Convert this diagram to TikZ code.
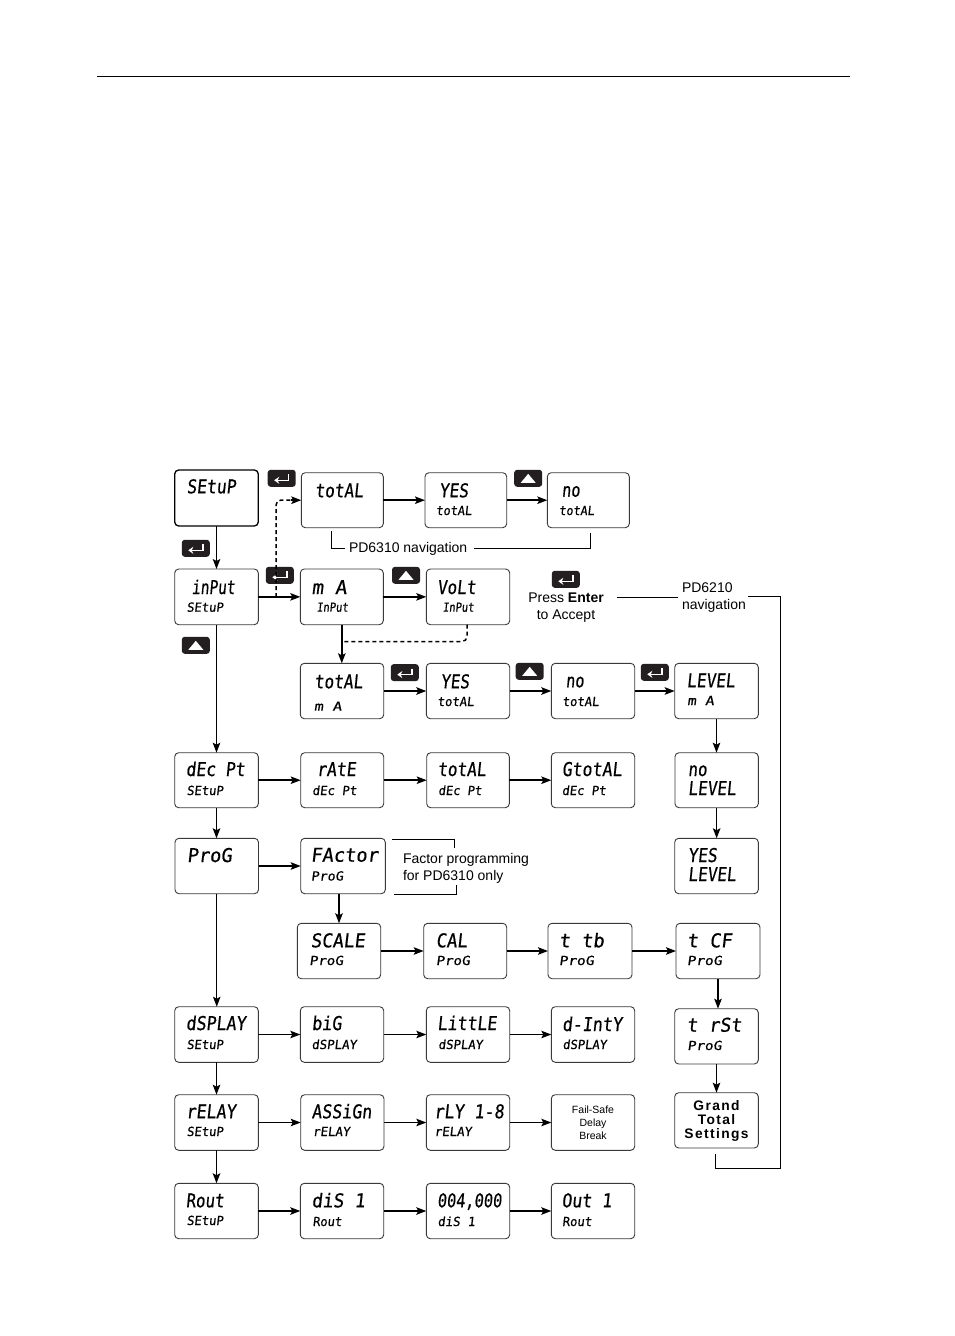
\documentclass[tikz,border=0pt]{standalone}
\usepackage{fontspec}
\usepackage{graphicx}
\usetikzlibrary{arrows.meta,calc}
\setmainfont{Liberation Sans}
\newfontfamily\lcdfont[FakeSlant=0.12,FakeBold=0.5]{DejaVu Sans Mono}
\definecolor{btnc}{HTML}{231F20}
\definecolor{boxc}{HTML}{3A3A3A}
\tikzset{
  lcdbox/.style={draw=boxc,line width=0.9pt,rounded corners=4pt,fill=white,inner sep=0pt,outer sep=0pt},
  lcdtxt/.style={anchor=base west,inner sep=0pt,outer sep=0pt,text=black},
  thinarrow/.style={draw=black,line width=1pt,-{Stealth[length=10pt,width=7.5pt,inset=2pt]}},
  thickarrow/.style={draw=black,line width=1.5pt,-{Stealth[length=10pt,width=7.5pt,inset=2pt]}},
  dasharrow/.style={draw=black,line width=1.5pt,dash pattern=on 4pt off 3pt,rounded corners=5pt},
  noteline/.style={draw=black,line width=0.9pt},
  note/.style={inner sep=0pt,outer sep=0pt,font=\fontsize{14}{17}\selectfont},
  btn/.style={fill=btnc,rounded corners=3pt,inner sep=0pt,outer sep=0pt,minimum width=28pt,minimum height=17pt},
  icon/.style={draw=white,line width=1.5pt},
}
\newcommand{\dbox}[6][]{%
  \pgfmathsetmacro{\bxw}{#5-#3}\pgfmathsetmacro{\bxh}{#6-#4}%
  \pgfmathsetmacro{\bxx}{(#5+#3)/2}\pgfmathsetmacro{\bxy}{(#6+#4)/2}%
  \node[lcdbox,minimum width=\bxw pt,minimum height=\bxh pt,#1] (#2) at (\bxx,\bxy) {};%
}
\newcommand{\lcdL}[5]{% name left right base text
  \pgfmathsetmacro{\tw}{#3-#2}%
  \node[lcdtxt] (#1L) at (#2,#4) {\resizebox{\tw pt}{\height}{\fontsize{19}{19}\lcdfont #5}};%
}
\newcommand{\lcdS}[5]{%
  \pgfmathsetmacro{\tw}{#3-#2}%
  \node[lcdtxt] (#1S) at (#2,#4) {\resizebox{\tw pt}{\height}{\fontsize{12.5}{13}\lcdfont #5}};%
}
\newcommand{\enterkey}[3]{%
  \node[btn] (#1) at (#2,#3) {};%
  \draw[icon,-{Stealth[length=5pt,width=7pt]}] ($(#1.center)+(7,-4)$) -- ($(#1.center)+(7,2)$) -- ($(#1.center)+(-7.5,2)$);%
}
\newcommand{\upkey}[3]{%
  \node[btn] (#1) at (#2,#3) {};%
  \fill[white] ($(#1.center)+(-7.5,4.5)$) -- ($(#1.center)+(7.5,4.5)$) -- ($(#1.center)+(0,-4.5)$) -- cycle;%
}
\begin{document}
\begin{tikzpicture}[x=1pt,y=-1pt]
\useasboundingbox (0,0) rectangle (954,1336);
\fill[white] (0,0) rectangle (954,1336);
\coordinate (ruleA) at (97,76); \coordinate (ruleB) at (850,76);
\draw[black,line width=1pt] (ruleA) -- (ruleB);

% boxes
\dbox[line width=1.3pt,draw=black]{setup}{174.7}{470}{258.3}{526}
\dbox{totalA}{301.3}{472.7}{383.3}{527.7}
\dbox{yesA}{425}{472.7}{506.7}{527.7}
\dbox{noA}{547.3}{472.7}{629.3}{527.7}
\dbox{input}{174.7}{569}{258.3}{624.7}
\dbox{ma}{300.3}{569}{383.3}{624.7}
\dbox{volt}{426.3}{569}{509.7}{624.7}
\dbox{totalB}{300.3}{663.3}{383.7}{718.7}
\dbox{yesB}{426.3}{663.3}{509.7}{718.7}
\dbox{noB}{551.3}{663.3}{634.7}{718.7}
\dbox{level}{674.7}{663.3}{758.3}{718.7}
\dbox{decpt}{174.7}{752.7}{258.3}{807.7}
\dbox{rate}{300.7}{752.7}{383.7}{807.7}
\dbox{totalC}{426.7}{752.7}{509.3}{807.7}
\dbox{gtotal}{551.3}{752.7}{634.7}{807.7}
\dbox{nolevel}{675}{752.7}{758.3}{807.7}
\dbox{prog}{175}{838.3}{258.5}{893.7}
\dbox{factor}{300.7}{838.3}{385.3}{893.7}
\dbox{yeslevel}{674.7}{838.3}{758.3}{893.7}
\dbox{scale}{297.3}{923.3}{380.7}{978.7}
\dbox{cal}{423.7}{923.3}{506.7}{978.7}
\dbox{ttb}{548}{923.3}{632}{978.7}
\dbox{tcf}{676}{923.3}{760}{978.7}
\dbox{display}{174.7}{1006.7}{258.3}{1062.3}
\dbox{bigG}{300.3}{1006.7}{383.7}{1062.3}
\dbox{little}{426.3}{1006.7}{509.7}{1062.3}
\dbox{dinty}{551.3}{1006.7}{634.7}{1062.3}
\dbox{trst}{674.7}{1008.7}{758.3}{1064}
\dbox{relay}{174.7}{1094.7}{258.3}{1150.3}
\dbox{assign}{300.7}{1094.7}{384}{1150.3}
\dbox{rly}{426.3}{1094.7}{509.7}{1150.3}
\dbox{failsafe}{551.3}{1094.7}{634.7}{1150.3}
\dbox{grand}{674.7}{1092.7}{758.3}{1148}
\dbox{rout}{174.7}{1183.3}{258.3}{1238.7}
\dbox{dis}{300.3}{1183.3}{383.7}{1238.7}
\dbox{val}{426.3}{1183.3}{509.7}{1238.7}
\dbox{out}{551.3}{1183.3}{634.7}{1238.7}

% lcd texts
\lcdL{setup}{186.7}{236}{493.3}{SEtuP}
\lcdL{totalA}{315}{363.3}{497.3}{totAL}
\lcdL{yesA}{439.3}{468.3}{497.3}{YES}
\lcdS{yesA}{436}{471.7}{515}{totAL}
\lcdL{noA}{561.7}{580}{496.7}{no}
\lcdS{noA}{559}{594.3}{515}{totAL}
\lcdL{input}{191.7}{235}{594}{inPut}
\lcdS{input}{186.7}{223.3}{611.7}{SEtuP}
\lcdL{ma}{311.7}{346.7}{594}{m A}
\lcdS{ma}{316.7}{348.3}{611.7}{InPut}
\lcdL{volt}{437.3}{476}{594}{VoLt}
\lcdS{volt}{442.7}{474}{611.7}{InPut}
\lcdL{totalB}{314.3}{362.7}{688.3}{totAL}
\lcdS{totalB}{314}{341.7}{710.7}{m A}
\lcdL{yesB}{440.7}{469.3}{688.3}{YES}
\lcdS{yesB}{437.3}{474}{706}{totAL}
\lcdL{noB}{565.7}{584}{687.3}{no}
\lcdS{noB}{562.3}{599}{706}{totAL}
\lcdL{level}{686.7}{735}{687.3}{LEVEL}
\lcdS{level}{687.3}{714}{705}{m A}
\lcdL{decpt}{186}{245}{776}{dEc Pt}
\lcdS{decpt}{186.7}{223.3}{795}{SEtuP}
\lcdL{rate}{316.7}{356}{776}{rAtE}
\lcdS{rate}{312.3}{356.7}{795}{dEc Pt}
\lcdL{totalC}{437.7}{486}{776}{totAL}
\lcdS{totalC}{438.3}{481.7}{795}{dEc Pt}
\lcdL{gtotal}{562}{622}{776}{GtotAL}
\lcdS{gtotal}{562}{606}{795}{dEc Pt}
\lcdL{nolevel}{688}{707}{776}{no}
\lcdL{nolevelb}{688}{736}{795}{LEVEL}
\lcdL{yeslevel}{688}{717}{862}{YES}
\lcdL{yeslevelb}{688}{736}{881}{LEVEL}
\lcdL{prog}{187}{232}{862}{ProG}
\lcdL{factor}{310.7}{378.3}{861.7}{FActor}
\lcdS{factor}{311}{343.3}{880.5}{ProG}
\lcdL{scale}{310.7}{365}{947.3}{SCALE}
\lcdS{scale}{309.3}{343.3}{965}{ProG}
\lcdL{cal}{436}{467.3}{947.3}{CAL}
\lcdS{cal}{436}{470}{965}{ProG}
\lcdL{ttb}{559}{604}{947.3}{t tb}
\lcdS{ttb}{559}{594}{965}{ProG}
\lcdL{tcf}{687}{732}{947.3}{t CF}
\lcdS{tcf}{687}{722}{965}{ProG}
\lcdL{display}{186}{246}{1030}{dSPLAY}
\lcdS{display}{186.7}{223.3}{1049}{SEtuP}
\lcdL{bigG}{311.7}{341.7}{1030}{biG}
\lcdS{bigG}{311.7}{356.7}{1049}{dSPLAY}
\lcdL{little}{437.3}{496.7}{1030}{LittLE}
\lcdS{little}{438.3}{482.7}{1049}{dSPLAY}
\lcdL{dinty}{562.3}{622.3}{1031}{d-IntY}
\lcdS{dinty}{562.7}{606.7}{1049}{dSPLAY}
\lcdL{trst}{686.7}{741.7}{1031.7}{t rSt}
\lcdS{trst}{687.3}{721.7}{1050}{ProG}
\lcdL{relay}{186}{236}{1118.3}{rELAY}
\lcdS{relay}{186.7}{223.3}{1136}{SEtuP}
\lcdL{assign}{311.7}{371.7}{1118.3}{ASSiGn}
\lcdS{assign}{312.7}{350}{1136}{rELAY}
\lcdL{rly}{434}{504}{1118.3}{rLY 1-8}
\lcdS{rly}{434.3}{471.7}{1136}{rELAY}
\lcdL{rout}{186}{224}{1207.3}{Rout}
\lcdS{rout}{186.7}{223.3}{1225}{SEtuP}
\lcdL{dis}{311.7}{365}{1207.3}{diS 1}
\lcdS{dis}{312.7}{341.7}{1226}{Rout}
\lcdL{val}{437.3}{501.7}{1207.3}{004,000}
\lcdS{val}{437.7}{475}{1226}{diS 1}
\lcdL{out}{561.7}{611.7}{1207.3}{Out 1}
\lcdS{out}{562.3}{591.7}{1226}{Rout}

% plain text in boxes
\node[inner sep=0pt,align=center,font=\fontsize{10.5}{13}\selectfont] (failsafeT) at (failsafe.center) {Fail-Safe\\Delay\\Break};
\node[inner sep=0pt,align=center,font=\fontsize{13.8}{14}\selectfont\bfseries\addfontfeature{LetterSpace=10}] (grandT) at ($(grand.center)+(0,1)$) {Grand\\Total\\Settings};

% keys
\enterkey{kA}{281.7}{478.3}
\enterkey{kB}{195.8}{548.3}
\upkey{kC}{195.8}{645.3}
\enterkey{kD}{279.8}{575.3}
\upkey{kE}{406}{575.3}
\enterkey{kF}{404.8}{672.6}
\upkey{kG}{528.2}{478.3}
\enterkey{kH}{565.8}{579.3}
\upkey{kI}{529.7}{671.3}
\enterkey{kJ}{654.8}{672.3}

% connectors
\draw[thinarrow] (setup.south) -- (setup.south|-input.north);
\draw[thinarrow] (input.south) -- (input.south|-decpt.north);
\draw[thickarrow] (decpt.south) -- (decpt.south|-prog.north);
\draw[thinarrow] (prog.south) -- (prog.south|-display.north);
\draw[thickarrow] (display.south) -- (display.south|-relay.north);
\draw[line width=1.8pt,-{Stealth[length=10pt,width=7.5pt,inset=2pt]}] (relay.south) -- (relay.south|-rout.north);

\draw[thickarrow] (totalA.east) -- (yesA.west);
\draw[thickarrow] (yesA.east) -- (noA.west);
\draw[thickarrow] (input.east) -- (ma.west);
\draw[thickarrow] (ma.east) -- (volt.west);
\draw[thickarrow] (ma.south) -- (ma.south|-totalB.north);
\draw[thickarrow] (totalB.east) -- (yesB.west);
\draw[thickarrow] (yesB.east) -- (noB.west);
\draw[thickarrow] (noB.east) -- (level.west);
\draw[thickarrow] (level.south) -- (level.south|-nolevel.north);
\draw[thickarrow] (nolevel.south) -- (nolevel.south|-yeslevel.north);
\draw[thickarrow] (decpt.east) -- (rate.west);
\draw[thickarrow] (rate.east) -- (totalC.west);
\draw[thickarrow] (totalC.east) -- (gtotal.west);
\draw[thickarrow] (prog.east) -- (factor.west);
\draw[thickarrow] (scale.north|-factor.south) -- (scale.north);
\draw[thickarrow] (scale.east) -- (cal.west);
\draw[thickarrow] (cal.east) -- (ttb.west);
\draw[thickarrow] (ttb.east) -- (tcf.west);
\draw[thickarrow] (tcf.south) -- (tcf.south|-trst.north);
\draw[thickarrow] (trst.south) -- (trst.south|-grand.north);
\draw[thinarrow] (display.east) -- (bigG.west);
\draw[thinarrow] (bigG.east) -- (little.west);
\draw[thinarrow] (little.east) -- (dinty.west);
\draw[thinarrow] (relay.east) -- (assign.west);
\draw[thinarrow] (assign.east) -- (rly.west);
\draw[thinarrow] (rly.east) -- (failsafe.west);
\draw[thickarrow] (rout.east) -- (dis.west);
\draw[thickarrow] (dis.east) -- (val.west);
\draw[thickarrow] (val.east) -- (out.west);

% dashed connectors
\coordinate (dashA) at (276,597);
\coordinate (dashB) at (276,500);
\draw[dasharrow] (dashA) -- (dashB) -- ($(totalA.west)+(-8,0)$);
\draw[draw=black,line width=1.5pt,-{Stealth[length=10pt,width=7.5pt,inset=2pt]}] ($(totalA.west)+(-10,0)$) -- (totalA.west);
\coordinate (dashC) at (467,641.5);
\coordinate (dashD) at (342,641.5);
\draw[dasharrow] (volt.south-|dashC) -- (dashC) -- (dashD);

% notes
\node[note,anchor=west] (nav6310) at (349,548.5) {PD6310 navigation};
\coordinate (n1a) at (331,531); \coordinate (n1b) at (331,548); \coordinate (n1c) at (345,548);
\draw[noteline] (n1a) -- (n1b) -- (n1c);
\coordinate (n2a) at (474,548); \coordinate (n2b) at (590,548); \coordinate (n2c) at (590,533);
\draw[noteline] (n2a) -- (n2b) -- (n2c);
\node[note,align=center] (pressT) at (566,607.5) {Press \textbf{Enter}\\to Accept};
\node[note,align=left,anchor=west] (nav6210) at (682,597.5) {PD6210\\navigation};
\coordinate (n3a) at (617,597); \coordinate (n3b) at (678,597);
\draw[noteline] (n3a) -- (n3b);
\coordinate (n4a) at (748,596); \coordinate (n4b) at (780.5,596); \coordinate (n4c) at (780.5,1168.5); \coordinate (n4d) at (715.5,1168.5); \coordinate (n4e) at (715.5,1154);
\draw[noteline] (n4a) -- (n4b) -- (n4c) -- (n4d) -- (n4e);
\node[note,align=left,anchor=west] (factorT) at (403,868.5) {Factor programming\\for PD6310 only};
\coordinate (n5a) at (392,839); \coordinate (n5b) at (454.7,839); \coordinate (n5c) at (454.7,848);
\draw[noteline] (n5a) -- (n5b) -- (n5c);
\coordinate (n6a) at (394,894.3); \coordinate (n6b) at (456.3,894.3); \coordinate (n6c) at (456.3,885);
\draw[noteline] (n6a) -- (n6b) -- (n6c);
\end{tikzpicture}
\end{document}
